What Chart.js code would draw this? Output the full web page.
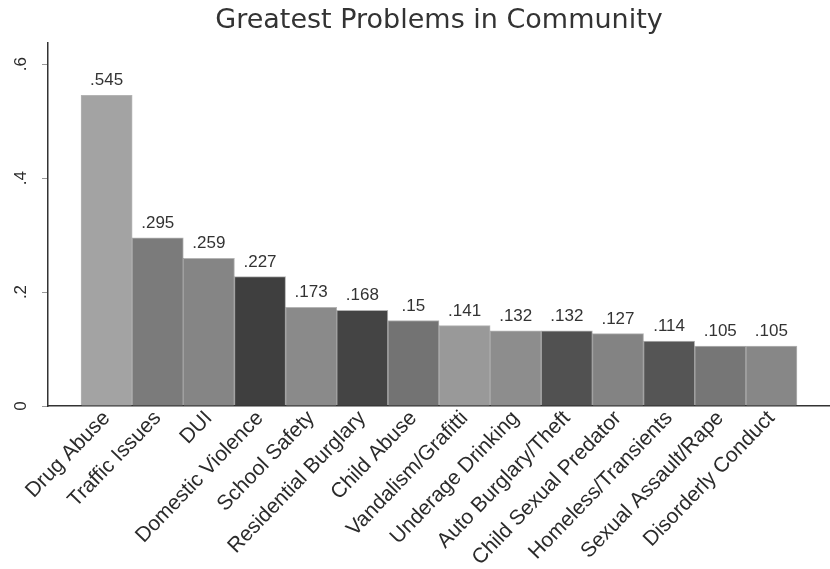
<!DOCTYPE html>
<html lang="en">
<head>
    <meta charset="UTF-8">
    <title>Greatest Problems in Community</title>
    <style>
        body {
            margin: 0;
            padding: 0;
            background-color: #ffffff;
            overflow: hidden;
        }

        .card {
            width: 830px;
            height: 569px;
            position: relative;
        }
    </style>
    <script src="https://cdn.jsdelivr.net/npm/chart.js"></script>
</head>
<body>
    <div class="card">
        <canvas id="problemsChart" width="830" height="569"></canvas>
    </div>

    <script>
        // survey shares, sorted from largest to smallest
        const categories = [
            'Drug Abuse', 'Traffic Issues', 'DUI', 'Domestic Violence', 'School Safety',
            'Residential Burglary', 'Child Abuse', 'Vandalism/Grafitti', 'Underage Drinking',
            'Auto Burglary/Theft', 'Child Sexual Predator', 'Homeless/Transients',
            'Sexual Assault/Rape', 'Disorderly Conduct'
        ];
        const shares = [0.545, 0.295, 0.259, 0.227, 0.173, 0.168, 0.15, 0.141, 0.132, 0.132, 0.127, 0.114, 0.105, 0.105];
        const barGreys = [
            '#a3a3a3', '#7b7b7b', '#858585', '#3f3f3f', '#8a8a8a', '#444444', '#737373',
            '#999999', '#8d8d8d', '#515151', '#838383', '#555555', '#767676', '#878787'
        ];
        const yTicks = [0, 0.2, 0.4, 0.6];

        // ".545" style: drop the leading zero
        const shortNum = v => v === 0 ? '0' : String(v).replace(/^0/, '');

        const valueLabels = {
            id: 'valueLabels',
            afterDatasetsDraw(chart) {
                const ctx = chart.ctx;
                const meta = chart.getDatasetMeta(0);
                ctx.save();
                ctx.font = '17px "Liberation Sans", Arial, sans-serif';
                ctx.fillStyle = '#333333';
                ctx.textAlign = 'center';
                ctx.textBaseline = 'alphabetic';
                meta.data.forEach((bar, i) => {
                    ctx.fillText(shortNum(shares[i]), bar.x, bar.y - 10);
                });
                ctx.restore();
            }
        };

        const ctx = document.getElementById('problemsChart').getContext('2d');
        new Chart(ctx, {
            type: 'bar',
            data: {
                datasets: [{
                    data: shares.map((v, i) => ({ x: i, y: v })),
                    backgroundColor: barGreys,
                    borderColor: 'rgba(40, 40, 40, 0.35)',
                    borderWidth: 1,
                    categoryPercentage: 1,
                    barPercentage: 1
                }]
            },
            options: {
                responsive: false,
                animation: false,
                layout: { padding: 0 },
                scales: {
                    x: {
                        type: 'linear',
                        offset: false,
                        min: -1.146,
                        max: 14.146,
                        afterBuildTicks: s => { s.ticks = categories.map((c, i) => ({ value: i })); },
                        afterFit: s => { s.paddingLeft = 0; s.paddingRight = 0; s.height = 163; },
                        ticks: {
                            autoSkip: false,
                            minRotation: 46,
                            maxRotation: 46,
                            padding: -8,
                            color: '#2b2b2b',
                            font: { family: '"Liberation Sans", Arial, sans-serif', size: 21 },
                            callback: v => categories[v]
                        },
                        grid: { display: false },
                        border: { display: true, color: '#333333', width: 1.5 }
                    },
                    y: {
                        min: 0,
                        max: 0.637,
                        afterBuildTicks: s => { s.ticks = yTicks.map(v => ({ value: v })); },
                        afterFit: s => { s.width = 48; },
                        ticks: {
                            minRotation: 90,
                            maxRotation: 90,
                            crossAlign: 'center',
                            padding: 14,
                            color: '#2b2b2b',
                            font: { family: '"Liberation Sans", Arial, sans-serif', size: 17 },
                            callback: v => shortNum(v)
                        },
                        grid: {
                            drawOnChartArea: false,
                            drawTicks: true,
                            tickLength: 6,
                            tickColor: '#999999'
                        },
                        border: { display: true, color: '#333333', width: 1.5 }
                    }
                },
                plugins: {
                    legend: { display: false },
                    tooltip: { enabled: false },
                    title: {
                        display: true,
                        fullSize: false,
                        text: 'Greatest Problems in Community',
                        color: '#333333',
                        font: { family: '"DejaVu Sans", sans-serif', size: 27, weight: 'normal', lineHeight: 1.2 },
                        padding: { top: 4.5, bottom: 6.1 }
                    }
                }
            },
            plugins: [valueLabels]
        });
    </script>
</body>
</html>
